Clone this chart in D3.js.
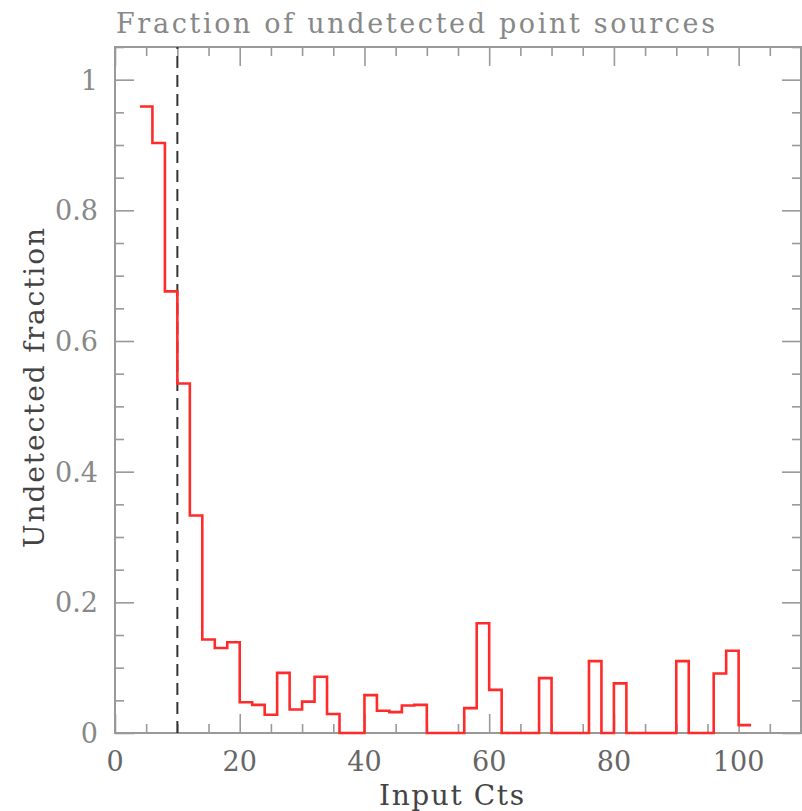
<!DOCTYPE html>
<html>
<head>
<meta charset="utf-8">
<script src="https://cdn.jsdelivr.net/npm/d3@7"></script>
<style>
  body { margin: 0; background: #fff; }
  svg text { font-family: "DejaVu Serif", serif; }
</style>
</head>
<body>
<svg id="chart"></svg>
<script>
/* global d3 */

// left edges of the 2-count bins
const binLeft = [4, 6, 8, 10, 12, 14, 16, 18, 20, 22, 24, 26, 28, 30, 32, 34, 36, 38,
  40, 42, 44, 46, 48, 50, 52, 54, 56, 58, 60, 62, 64, 66, 68, 70, 72, 74, 76, 78,
  80, 82, 84, 86, 88, 90, 92, 94, 96, 98, 100];
const binWidth = 2;
const undetected = [0.959, 0.903, 0.676, 0.535, 0.333, 0.143, 0.130, 0.139, 0.047, 0.043,
  0.028, 0.092, 0.036, 0.048, 0.086, 0.029, 0, 0, 0.058, 0.034, 0.032, 0.042, 0.043,
  0, 0, 0, 0.038, 0.168, 0.066, 0, 0, 0, 0.084, 0, 0, 0, 0.110, 0, 0.076, 0, 0, 0, 0,
  0.110, 0, 0, 0.091, 0.126, 0.012];
const thresholdCts = 10;

const xMajorTicks = [0, 20, 40, 60, 80, 100];
const yMajorTicks = [0, 0.2, 0.4, 0.6, 0.8, 1];
const yTickLabels = ['0', '0.2', '0.4', '0.6', '0.8', '1'];

//-------------------------------------------------

const WIDTH  = 802;
const HEIGHT = 811;
const frame = { left: 115, right: 801, top: 47, bottom: 733 };

const svg = d3.select('#chart')
  .attr('width', WIDTH)
  .attr('height', HEIGHT);

const x = d3.scaleLinear().domain([0, 110]).range([frame.left, frame.right]);
const y = d3.scaleLinear().domain([0, 1.05]).range([frame.bottom, frame.top]);

const AXIS = '#999';
const MAJOR = 19;
const MINOR = 9;

const addAxis = function (axis, transform, ticks, size) {
  const g = svg.append('g')
    .attr('transform', transform)
    .call(axis.tickValues(ticks).tickSize(size).tickFormat(''));
  g.select('.domain').remove();
  g.selectAll('line').attr('stroke', AXIS).attr('stroke-width', 1.6);
  return g;
};

const xMinor = d3.range(0, 111, 5).filter(v => v % 20 !== 0);
const yMinor = d3.range(0, 1.051, 0.05).map(v => +v.toFixed(2))
  .filter(v => Math.abs(v * 5 - Math.round(v * 5)) > 1e-6);

// ticks point inward on all four sides
addAxis(d3.axisBottom(x), `translate(0,${frame.bottom})`, xMajorTicks, -MAJOR);
addAxis(d3.axisBottom(x), `translate(0,${frame.bottom})`, xMinor, -MINOR);
addAxis(d3.axisTop(x), `translate(0,${frame.top})`, xMajorTicks, -MAJOR);
addAxis(d3.axisTop(x), `translate(0,${frame.top})`, xMinor, -MINOR);
addAxis(d3.axisLeft(y), `translate(${frame.left},0)`, yMajorTicks, -MAJOR);
addAxis(d3.axisLeft(y), `translate(${frame.left},0)`, yMinor, -MINOR);
addAxis(d3.axisRight(y), `translate(${frame.right},0)`, yMajorTicks, -MAJOR);
addAxis(d3.axisRight(y), `translate(${frame.right},0)`, yMinor, -MINOR);

svg.append('rect')
  .attr('x', frame.left)
  .attr('y', frame.top)
  .attr('width', frame.right - frame.left)
  .attr('height', frame.bottom - frame.top)
  .attr('fill', 'none')
  .attr('stroke', AXIS)
  .attr('stroke-width', 2);

// tick labels
svg.append('g').selectAll('text')
  .data(xMajorTicks)
  .join('text')
  .attr('x', d => x(d))
  .attr('y', 771)
  .attr('text-anchor', 'middle')
  .attr('font-size', 27)
  .attr('fill', '#666')
  .text(d => d);

svg.append('g').selectAll('text')
  .data(yMajorTicks)
  .join('text')
  .attr('x', 98)
  .attr('y', d => y(d) + 10)
  .attr('text-anchor', 'end')
  .attr('font-size', 27)
  .attr('fill', '#888')
  .text((d, i) => yTickLabels[i]);

// threshold line
svg.append('line')
  .attr('x1', x(thresholdCts))
  .attr('x2', x(thresholdCts))
  .attr('y1', y(0))
  .attr('y2', frame.top)
  .attr('stroke', '#333')
  .attr('stroke-width', 2)
  .attr('stroke-dasharray', '12,7');

// stepped histogram
const points = binLeft.map((b, i) => [b, undetected[i]]);
points.push([binLeft[binLeft.length - 1] + binWidth, undetected[undetected.length - 1]]);

svg.append('path')
  .datum(points)
  .attr('fill', 'none')
  .attr('stroke', '#ff2b2b')
  .attr('stroke-width', 2.6)
  .attr('stroke-linejoin', 'miter')
  .attr('d', d3.line()
    .x(d => x(d[0]))
    .y(d => y(d[1]))
    .curve(d3.curveStepAfter));

// titles
svg.append('text')
  .attr('x', 116)
  .attr('y', 33)
  .attr('font-size', 27)
  .attr('fill', '#888')
  .attr('textLength', 599)
  .attr('lengthAdjust', 'spacing')
  .text('Fraction of undetected point sources');

svg.append('text')
  .attr('x', 379)
  .attr('y', 805)
  .attr('font-size', 28)
  .attr('fill', '#444')
  .attr('textLength', 145)
  .attr('lengthAdjust', 'spacing')
  .text('Input Cts');

svg.append('text')
  .attr('transform', 'translate(44,548) rotate(-90)')
  .attr('font-size', 28)
  .attr('fill', '#444')
  .attr('textLength', 320)
  .attr('lengthAdjust', 'spacing')
  .text('Undetected fraction');
</script>
</body>
</html>
